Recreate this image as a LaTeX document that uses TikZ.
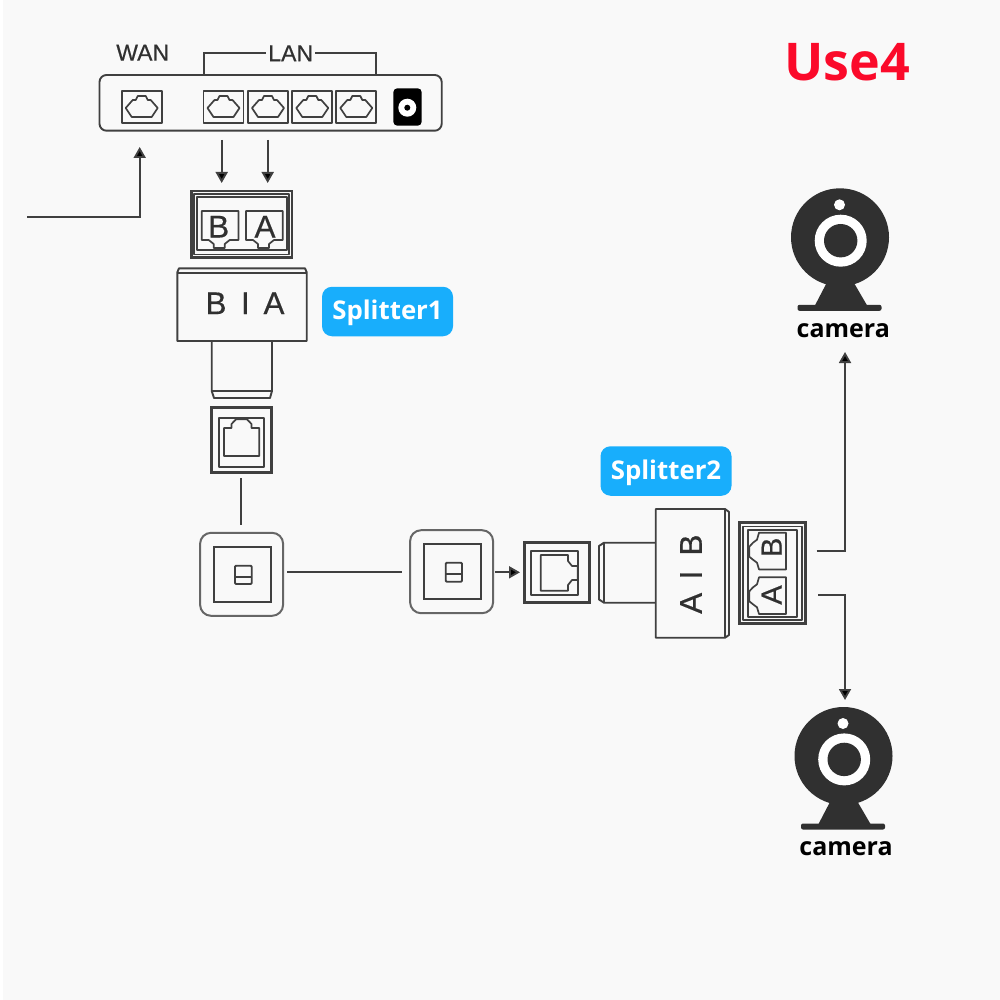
\documentclass[tikz,border=0pt]{standalone}
\usepackage{fontspec}
\setmainfont{Liberation Sans}
\newfontfamily\lblfont{Open Sans}
\newfontfamily\strokefont[FakeBold=0.5]{Liberation Sans}
\usetikzlibrary{arrows.meta}
\definecolor{ink}{HTML}{404040}
\definecolor{dark}{HTML}{303030}
\definecolor{pagebg}{HTML}{F9F9F9}
\definecolor{tagblue}{HTML}{18AEFC}
\definecolor{usered}{HTML}{FB0A2A}
\tikzset{
  ln/.style={draw=ink,line width=1.9pt,line join=round},
  thin ln/.style={draw=ink,line width=1.2pt,line join=round},
  heavy/.style={draw=ink,line width=2.8pt,line join=miter},
  conn/.style={draw=ink,line width=1.9pt},
  arr/.style={conn,-{Triangle[width=12pt,length=11pt,fill=black]}},
  plate/.style={draw=ink!80,line width=2pt,rounded corners=11pt,minimum size=83pt,inner sep=0pt,fill=none},
  platein/.style={draw=ink,line width=1.8pt,inner sep=0pt},
  port/.style={ln,line width=1.7pt},
  lettr/.style={text=dark,font=\strokefont\fontsize{31.5}{32}\selectfont,inner sep=0pt},
  routerlbl/.style={text=dark,font=\strokefont\fontsize{23}{24}\selectfont,inner sep=0pt},
  tag/.style={fill=tagblue,text=white,rounded corners=10pt,font=\lblfont\bfseries\fontsize{25.8}{26}\selectfont,minimum width=131pt,minimum height=49.5pt,inner sep=0pt},
  camlbl/.style={text=black,font=\lblfont\bfseries\fontsize{25}{26}\selectfont,inner sep=0pt},
}
% LAN/WAN port at top-left corner #1,#2 (40x32)
\newcommand{\netport}[2]{%
  \draw[ln] (#1,#2) rectangle ++(40,31.7);
  \draw[port] (#1+4,#2+17) -- (#1+11,#2+9) -- (#1+14,#2+9) -- (#1+16,#2+5) -- (#1+24,#2+5) -- (#1+26,#2+9) -- (#1+29,#2+9) -- (#1+36,#2+17) -- (#1+30,#2+26) -- (#1+10,#2+26) -- cycle;
}
\newcommand{\camera}[2]{%
  \begin{scope}[shift={(#1,#2)}]
    \fill[dark] (0,0) circle[radius=49];
    \fill[dark] (-12.5,44) -- (13,44) -- (27,68) -- (-25,68) -- cycle;
    \fill[dark,rounded corners=2pt] (-42.5,67.5) rectangle (41.5,73.5);
    \fill[white] (0.7,3.4) circle[radius=26];
    \fill[dark] (0.7,3.4) circle[radius=16.7];
    \fill[white] (-0.5,-32.5) circle[radius=5.5];
  \end{scope}
}
\begin{document}
\begin{tikzpicture}[x=1pt,y=-1pt]
\useasboundingbox (0,0) rectangle (1000,1000);
\fill[white] (0,0) rectangle (1000,1000);
\fill[pagebg] (3,0) rectangle (1000,1000);

% ---- router
\draw[ln,rounded corners=7pt] (99.5,75) -- (441.7,75) -- (441.7,130.7) -- (99.5,130.7) -- cycle;
\node[routerlbl] (wan) at (142.7,52.7) {WAN};
\node[routerlbl] (lan) at (290.7,53.3) {LAN};
\coordinate (lanL) at (204,75);
\coordinate (lanR) at (376.3,75);
\draw[conn] (lanL) |- ([xshift=-2pt]lan.west);
\draw[conn] (lanR) |- ([xshift=2pt]lan.east);
\netport{121.7}{91}
\netport{203.5}{91}
\netport{248}{91}
\netport{292.3}{91}
\netport{336.3}{91}
\fill[black,rounded corners=4pt] (393.3,88.3) rectangle (421.7,125.7);
\fill[white] (407.3,107.7) circle[radius=9];
\fill[black] (407.3,107.7) circle[radius=3];

% ---- arrows router / splitter 1
\coordinate (a1s) at (221.7,140); \coordinate (a1e) at (221.7,183);
\coordinate (a2s) at (267.7,140); \coordinate (a2e) at (267.7,183);
\draw[arr] (a1s) -- (a1e);
\draw[arr] (a2s) -- (a2e);
\coordinate (w0) at (27,217); \coordinate (w1) at (139.7,147);
\draw[arr] (w0) -| (w1);

% ---- splitter 1 jack
\draw[heavy] (191.5,191) rectangle (292,257.5);
\draw[ln] (196.7,197) rectangle (286.7,250);
\draw[thin ln] (194,194) -- (289,194) -- (289,254.5) -- (194,254.5) -- cycle;
\foreach \px in {201.7,246}{
  \draw[port] (\px,211) -- (\px+36.7,211) -- (\px+36.7,240) -- (\px+28,240) -- (\px+23,244) -- (\px+23,248) -- (\px+12,248) -- (\px+12,244) -- (\px+7,240) -- (\px,240) -- cycle;
}
\node[lettr] (jB) at (218.7,226.7) {B};
\node[lettr] (jA) at (265,226.7) {A};

% ---- splitter 1 body
\draw[ln] (179,268.3) -- (305,268.3) -- (306.7,272.3) -- (306.7,341) -- (177.3,341) -- (177.3,272.3) -- cycle;
\draw[ln] (177.3,272.8) -- (306.7,272.8);
\node[lettr] (sB) at (216,303.3) {B};
\node[lettr] (sI) at (245.3,303.3) {I};
\node[lettr] (sA) at (274,303.3) {A};
\draw[ln] (211.7,341) -- (211.7,391) -- (214,398) -- (270,398) -- (272,391) -- (272,341);
\draw[ln] (211.7,390.7) -- (272,390.7);

% ---- jack below splitter 1
\draw[heavy] (211.5,407.8) rectangle (271.2,472.2);
\draw[ln] (219.3,417.7) rectangle (264,466.7);
\draw[port] (224,456) -- (224,428) -- (231.5,428) -- (231.5,424) -- (236,419.3) -- (247,419.3) -- (251.5,424) -- (251.5,428) -- (259.3,428) -- (259.3,456) -- cycle;

% ---- wall plates
\node[plate] (p1) at (241.6,574.3) {};
\node[platein,minimum width=56.7pt,minimum height=55pt] (p1i) at (242.3,574.2) {};
\draw[ln,rounded corners=1pt] (235,565.7) rectangle (251.7,584);
\draw[ln] (235,576.7) -- (251.7,576.7);
\node[plate] (p2) at (451.6,571.7) {};
\node[platein,minimum width=56.4pt,minimum height=55.3pt] (p2i) at (452.5,571.7) {};
\draw[ln,rounded corners=1pt] (445.7,562.7) rectangle (462,581.7);
\draw[ln] (445.7,574) -- (462,574);
\coordinate (v0) at (241,478); \coordinate (v1) at (241,525);
\draw[conn] (v0) -- (v1);
\coordinate (h0) at (287.3,572.3); \coordinate (h1) at (402,572.3);
\draw[conn] (h0) -- (h1);
\coordinate (h2) at (495.3,572.3); \coordinate (h3) at (520,572.3);
\draw[arr] (h2) -- (h3);

% ---- splitter 2 input jack
\draw[heavy] (524.5,542.8) rectangle (589.5,602.8);
\draw[ln] (530.7,550.7) rectangle (578.3,595);
\draw[port] (540.7,555) -- (568,555) -- (568,561) -- (572,566) -- (577.7,566) -- (577.7,580) -- (572,580) -- (568,585) -- (568,590.7) -- (540.7,590.7) -- cycle;

% ---- splitter 2 body
\draw[ln] (655.7,542.7) -- (604,542.7) -- (599,546) -- (599,599.5) -- (604,602.7) -- (655.7,602.7);
\draw[ln] (604.3,542.7) -- (604.3,602.7);
\draw[ln] (655.7,509) -- (725,509) -- (729,512) -- (729,635) -- (725,637.7) -- (655.7,637.7) -- cycle;
\draw[ln] (725,509) -- (725,637.7);
\node[lettr,rotate=90] (tB) at (691,545) {B};
\node[lettr,rotate=90] (tI) at (691,575) {I};
\node[lettr,rotate=90] (tA) at (691,603.3) {A};

% ---- splitter 2 output jack
\draw[heavy] (739.5,522.8) rectangle (805.5,623.5);
\draw[thin ln] (743,526.5) rectangle (802,620);
\draw[ln] (748,530) rectangle (797,617);
\foreach \py in {532.7,577.3}{
  \draw[port] (786,\py) -- (786,\py+36.7) -- (759,\py+36.7) -- (757,\py+30) -- (753,\py+27) -- (749.3,\py+24) -- (749.3,\py+14) -- (753,\py+10) -- (757,\py+7) -- (759,\py) -- cycle;
}
\node[lettr,rotate=90,font=\strokefont\fontsize{29}{29}\selectfont] (oB) at (771.7,547.3) {B};
\node[lettr,rotate=90,font=\strokefont\fontsize{29}{29}\selectfont] (oA) at (771.7,595) {A};

% ---- camera connectors
\coordinate (o1) at (816.7,551); \coordinate (c1) at (845,352);
\coordinate (o2) at (818.3,595); \coordinate (c2) at (845,700);
\draw[arr] (o1) -| (c1);
\draw[arr] (o2) -| (c2);

% ---- cameras
\camera{840}{237.3}
\camera{843.5}{756}
\node[camlbl] (cam1) at (843.3,331) {camera};
\node[camlbl] (cam2) at (846,849) {camera};

% ---- tags
\node[tag] (sp1) at (387.5,311.5) {\raisebox{-8pt}[0pt][0pt]{Splitter1}};
\node[tag] (sp2) at (666,471) {\raisebox{-8pt}[0pt][0pt]{Splitter2}};
\node[text=usered,font=\lblfont\bfseries\fontsize{52}{54}\selectfont,inner sep=0pt] (use4) at (847,62) {Use4};
\end{tikzpicture}
\end{document}
